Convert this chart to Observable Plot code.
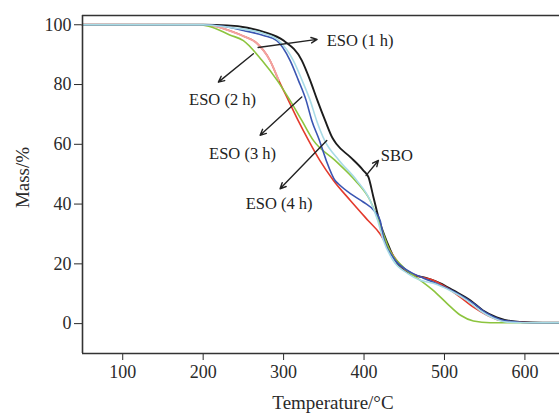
<!DOCTYPE html>
<html><head><meta charset="utf-8">
<script src="https://cdn.jsdelivr.net/npm/d3@7"></script>
<script src="https://cdn.jsdelivr.net/npm/@observablehq/plot@0.6"></script>
<style>body{margin:0;background:#fff} svg{display:block}</style>
</head><body><div id="chart"></div>
<script>
// Temperature (°C) / Mass (%) samples
const sboT = [50,200,230,255,275,300,322.6,333,342,351.6,361,366,383,399,405.5,411.7,419,429,441,457,478,495,511,532,548,565,582,607,643];
const sboM = [100,100,99.8,99,97.6,94.7,88.1,81.4,74.7,68,62,60,55.7,51.3,49,42.3,34.5,27,20.2,16.8,15.2,13.5,11.1,7.8,4.4,2.1,0.9,0.4,0.3];
const eso1T = [50,200,215,235,250,266,283,294,306,318,331,345,362,383,405,420,432,448,466,486,503,520,536,553,569,585,610,643];
const eso1M = [100,99.9,99.5,97.8,96.2,94,88.1,81.4,74.7,68,61.3,54.6,47.9,41.2,34.5,30,24.5,18.8,16,14.5,12,8.8,5.5,2.8,1.1,0.6,0.3,0.3];
const eso2T = [50,195,212,233,250,273,292,308,322.6,337,364,389,407.6,418,432,449,470,486,503,520,536,557,643];
const eso2M = [100,100,99.1,96.6,94.7,88.1,81.4,74.7,68,61.3,54.6,47.9,41.2,34.5,24.5,18.8,14.5,11.1,6.8,2.8,0.9,0.3,0.3];
const eso3T = [50,200,225,250,275,291.5,308,318.4,328,335,344.6,353,364,368,383,399,412,420,424,436,454,474,495,516,536,553,569,585,610,643];
const eso3M = [100,100,99.5,98.1,96.4,94.7,88.1,81.4,74.7,68,61.3,54.6,47.9,46.8,43.5,40.7,37.9,34.5,29,22.2,17.8,15.2,12.8,10.1,6.8,3.4,1.4,0.7,0.3,0.3];
const eso4T = [50,200,233,275,294,312,323,333,341,351,369,391,407.6,417,424,436,454,470,486,507,528,544,561,578,600,643];
const eso4M = [100,100,99.1,97.1,94.7,88.1,81.4,74.7,68,61.3,54.6,47.9,41.2,34.5,27.9,21.2,16.8,14.5,13.5,11.1,7.8,4.4,1.8,0.5,0.3,0.3];

const seriesNames = ["SBO","ESO (1 h)","ESO (2 h)","ESO (3 h)","ESO (4 h)"];
const seriesColors = ["#1c1c1c","#e33a2c","#8cc43e","#3a55b2","#a8dbe6"];
const seriesWidths = [1.9,1.6,1.6,1.6,1.6];
const seriesT = [sboT, eso1T, eso2T, eso3T, eso4T];
const seriesM = [sboM, eso1M, eso2M, eso3M, eso4M];
const drawOrder = [0,1,2,3,4];
// the upper part of the ESO (1 h) trace is drawn pale in the reference
const paleColor = "#f2a3a0";
const palePoints = 8;

const xTicks = [100,200,300,400,500,600];
const yTicks = [0,20,40,60,80,100];

// annotation labels and arrows (data coordinates)
const labelText = ["ESO (1 h)","ESO (2 h)","ESO (3 h)","ESO (4 h)","SBO"];
const labelT = [395.1,224.1,249,294.4,440.8];
const labelM = [94.7,74.9,57.0,40.1,56.3];
const arrowT1 = [268.3,262.4,322.6,353.7,402.6];
const arrowM1 = [92.4,90.3,75.8,61.3,49.6];
const arrowT2 = [341.7,218.9,270.8,295.6,417.9];
const arrowM2 = [95.1,80.8,63.0,45.1,54.6];

const xDomain = [50,643];
const yDomain = [-10,103.1];

const labels = labelText.map((t,i)=>({t, x:labelT[i], y:labelM[i]}));
const arrows = arrowT1.map((x1,i)=>({x1, y1:arrowM1[i], x2:arrowT2[i], y2:arrowM2[i]}));
const rows = k => seriesT[k].map((t,i)=>({T:t, M:seriesM[k][i], name:seriesNames[k]}));

const lineMarks = [];
for (const k of drawOrder) {
  lineMarks.push(Plot.line(rows(k), {x:"T", y:"M", stroke: seriesColors[k], strokeWidth: seriesWidths[k], curve:"monotone-x"}));
  if (k === 1) {
    lineMarks.push(Plot.line(rows(k).slice(0, palePoints), {x:"T", y:"M", stroke: paleColor, strokeWidth: 1.9, curve:"monotone-x"}));
  }
}

const axisColor = "#333";
const chart = Plot.plot({
  width: 559,
  height: 414,
  marginLeft: 82,
  marginRight: 0,
  marginTop: 15,
  marginBottom: 61,
  style: {fontFamily: "'Liberation Serif', 'Times New Roman', serif", fontSize: "18px", color: "#2a2a2a", background: "#fff"},
  x: {domain: xDomain, ticks: xTicks, tickSize: 7, tickPadding: 5, label: null},
  y: {domain: yDomain, ticks: yTicks, tickSize: 8, tickPadding: 3, label: null},
  marks: [
    ...lineMarks,
    Plot.ruleX([xDomain[0]], {stroke: axisColor, strokeWidth: 1.6}),
    Plot.ruleY([yDomain[0]], {stroke: axisColor, strokeWidth: 1.6}),
    Plot.ruleY([yDomain[1]], {stroke: axisColor, strokeWidth: 1.6}),
    Plot.arrow(arrows, {x1:"x1", y1:"y1", x2:"x2", y2:"y2", stroke:"#222", strokeWidth:1.4, headLength:7, headAngle:50}),
    Plot.text(labels, {x:"x", y:"y", text:"t", fontSize: 16.5, fill:"#222", textAnchor:"middle"}),
    Plot.text(["Temperature/°C"], {frameAnchor:"bottom", textAnchor:"middle", lineAnchor:"middle", dx: 12, dy: 49, fontSize: 19, fill:"#2a2a2a"}),
    Plot.text(["Mass/%"], {frameAnchor:"left", textAnchor:"middle", lineAnchor:"middle", dx: -60, dy: -7, rotate: -90, fontSize: 19, fill:"#2a2a2a"})
  ]
});
document.getElementById("chart").appendChild(chart);
</script>
</body></html>
